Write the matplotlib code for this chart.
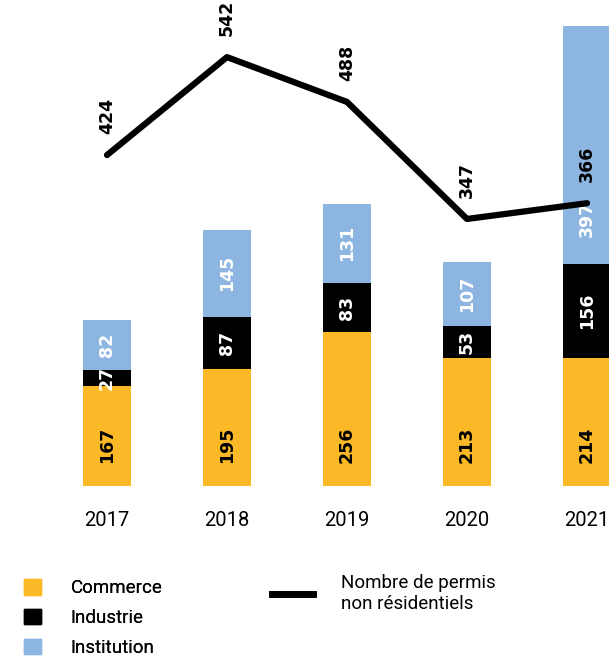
import matplotlib
matplotlib.use("Agg")
import numpy as np
from matplotlib import pyplot as plt
from matplotlib.patches import Patch
from matplotlib.lines import Line2D

# data
years = ["2017", "2018", "2019", "2020", "2021"]
commerce = [167, 195, 256, 213, 214]
industrie = [27, 87, 83, 53, 156]
institution = [82, 145, 131, 107, 397]
permis = [424, 542, 488, 347, 366]

c_comm = "#fbb827"
c_ind = "#000000"
c_inst = "#8db5e1"

plt.rcParams["font.family"] = ["Roboto", "DejaVu Sans"]

fig = plt.figure(figsize=(6.09, 6.6), dpi=100)
ax = fig.add_axes([0, 174/660, 1, 486/660])
x = np.arange(len(years))
bot1 = np.array(commerce)
bot2 = bot1 + np.array(industrie)
ax.bar(x, commerce, width=0.4, color=c_comm)
ax.bar(x, industrie, width=0.4, bottom=bot1, color=c_ind)
ax.bar(x, institution, width=0.4, bottom=bot2, color=c_inst)
ax.set_xlim(-107/120, (609-107)/120)
ax.set_ylim(0, 810)

numfont = dict(rotation=90, ha="center", fontsize=12.5, fontweight="heavy",
               fontfamily="DejaVu Sans")
for i in x:
    ax.text(i, 38, str(commerce[i]), va="bottom", color="black", **numfont)
    ax.text(i, bot1[i] + industrie[i]/2, str(industrie[i]), va="center",
            color="white", **numfont)
    ax.text(i, bot2[i] + min(institution[i]/2, 75), str(institution[i]),
            va="center", color="white", **numfont)

ax2 = ax.twinx()
ax2.set_ylim(25.3, 610.8)
ax2.plot(x, permis, color="black", lw=4.5, solid_capstyle="round",
         solid_joinstyle="round")
for i in x:
    ax2.annotate(str(permis[i]), (i, permis[i]), xytext=(0, 15),
                 textcoords="offset points", va="bottom", color="black",
                 **numfont)

for a in (ax, ax2):
    for s in a.spines.values():
        s.set_visible(False)
    a.set_yticks([])
ax.set_xticks(x, years)
ax.tick_params(axis="x", length=0, pad=18, labelsize=14.5)

leg1 = fig.legend(handles=[Patch(color=c_comm, label="Commerce"),
                           Patch(color=c_ind, label="Industrie"),
                           Patch(color=c_inst, label="Institution")],
                  loc="upper left", bbox_to_anchor=(24/609, 1 - 579/660),
                  frameon=False, fontsize=13.5, handlelength=0.9,
                  handleheight=0.9, handletextpad=1.6, labelspacing=0.62,
                  borderpad=0, borderaxespad=0)
leg2 = fig.legend(handles=[Line2D([], [], color="black", lw=5,
                                  label="Nombre de permis\nnon résidentiels")],
                  loc="upper left", bbox_to_anchor=(272/609, 1 - 574/660),
                  frameon=False, fontsize=13.5, handlelength=2.2,
                  handletextpad=1.5, borderpad=0, borderaxespad=0)
fig.add_artist(leg1)

fig.savefig("out.png", dpi=100)
